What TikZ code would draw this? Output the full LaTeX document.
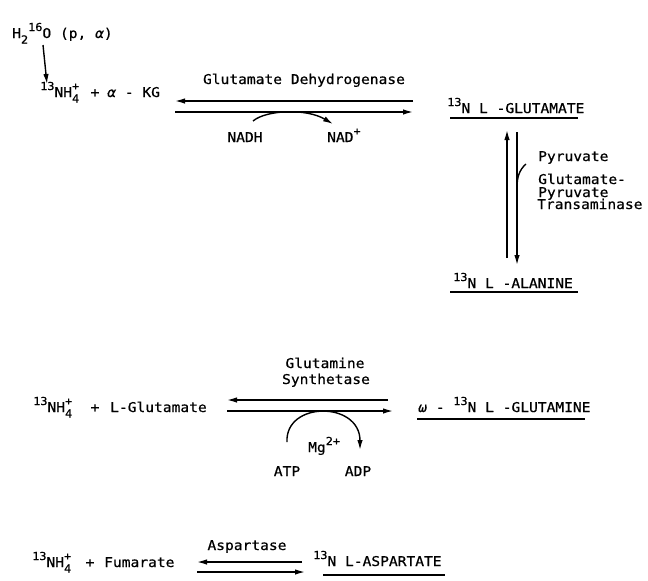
\documentclass[tikz,border=0pt]{standalone}
\usepackage{fontspec}
\setmainfont[FakeStretch=1.08,FakeBold=0.6]{DejaVu Sans Mono}
\usetikzlibrary{arrows.meta}
\newcommand\mysup[1]{\raisebox{7pt}{\fontsize{11}{11}\selectfont #1}}
\newcommand\mysub[1]{\raisebox{-5.5pt}{\fontsize{11}{11}\selectfont #1}}
\tikzset{
 txt/.style={inner sep=0pt, font=\fontsize{13.5}{12.5}\selectfont, anchor=base west},
 ctxt/.style={inner sep=0pt, font=\fontsize{13.5}{12.5}\selectfont, anchor=base},
 rx/.style={line width=1.4pt, -{Latex[length=10pt,width=5.5pt]}},
 ln/.style={line width=1.4pt},
 ul/.style={line width=1.4pt},
}
\begin{document}
\begin{tikzpicture}[x=1pt,y=-1pt]
\useasboundingbox (0,0) rectangle (648,581);
% ---- reaction 1 ----
\node[txt] (h2o) at (12,38) {H\mysub{2}\mysup{16}O (p, \textit{α})};
\node[txt] (nh1) at (40,97) {\mysup{13}NH\rlap{\mysup{+}}\mysub{4}};
\node[ctxt] (p1) at (95,97) {+};
\node[txt] (akg) at (107,97) {\textit{α} - KG};
\coordinate (h2oA) at (43,45);
\coordinate (nh1A) at (47,84);
\draw[rx] (h2oA) -- (nh1A);
\node[ctxt] (gdh) at (304,84) {Glutamate Dehydrogenase};
\coordinate (r1a) at (413,101);
\coordinate (r1b) at (175,101);
\coordinate (r1c) at (175,112);
\coordinate (r1d) at (413,112);
\draw[rx] (r1a) -- (r1b);
\draw[rx] (r1c) -- (r1d);
\node[ctxt] (nadh) at (245,142) {NADH};
\node[txt] (nad) at (327,142) {NAD\mysup{+}};
\coordinate (nadhT) at (253,121);
\coordinate (nadT) at (333,124);
\draw[rx] (nadhT) .. controls (266,110) and (306,108) .. (nadT);
\node[txt] (glu) at (447,113) {\mysup{13}N L -GLUTAMATE};
\draw[ul] (450,118) -- (578,118);
% transaminase
\coordinate (v1a) at (507,258);
\coordinate (v1b) at (507,130);
\coordinate (v2a) at (517,132);
\coordinate (v2b) at (517,265);
\draw[rx] (v1a) -- (v1b);
\draw[rx] (v2a) -- (v2b);
\coordinate (pyrA) at (526,164);
\coordinate (pyrB) at (517,187);
\draw[ln] (pyrA) .. controls (519,170) and (517,178) .. (pyrB);
\node[txt] (pyr) at (538,161) {Pyruvate};
\node[txt] (gpt1) at (538,184) {Glutamate-};
\node[txt] (gpt2) at (538,197) {Pyruvate};
\node[txt] (gpt3) at (537,209) {Transaminase};
\node[txt] (ala) at (453,288) {\mysup{13}N L -ALANINE};
\draw[ul] (450,292) -- (578,292);
% ---- reaction 2 ----
\node[txt] (n2) at (33,412) {\mysup{13}NH\rlap{\mysup{+}}\mysub{4}};
\node[ctxt] (p2) at (95,412) {+};
\node[txt] (lglu) at (110,412) {L-Glutamate};
\node[ctxt] (gs1) at (325,368) {Glutamine};
\node[ctxt] (gs2) at (326,384) {Synthetase};
\coordinate (r2a) at (388,400);
\coordinate (r2b) at (227,400);
\coordinate (r2c) at (227,411);
\coordinate (r2d) at (393,411);
\draw[rx] (r2a) -- (r2b);
\draw[rx] (r2c) -- (r2d);
\node[txt] (mg) at (308,452) {Mg\mysup{2+}};
\node[ctxt] (atp) at (287,476) {ATP};
\node[ctxt] (adp) at (358,476) {ADP};
\coordinate (atpT) at (287,442);
\coordinate (adpT) at (360,450);
\draw[rx] (atpT) .. controls (285,401) and (360,401) .. (adpT);
\node[txt] (gln) at (418,412) {\textit{ω} - \mysup{13}N L -GLUTAMINE};
\draw[ul] (417,419) -- (585,419);
% ---- reaction 3 ----
\node[txt] (n3) at (32,567) {\mysup{13}NH\rlap{\mysup{+}}\mysub{4}};
\node[ctxt] (p3) at (90,567) {+};
\node[txt] (fum) at (104,567) {Fumarate};
\node[ctxt] (asp) at (247,550) {Aspartase};
\coordinate (r3a) at (302,562);
\coordinate (r3b) at (197,562);
\coordinate (r3c) at (197,572);
\coordinate (r3d) at (305,572);
\draw[rx] (r3a) -- (r3b);
\draw[rx] (r3c) -- (r3d);
\node[txt] (aspt) at (313,566) {\mysup{13}N L-ASPARTATE};
\draw[ul] (323,575) -- (445,575);
\end{tikzpicture}
\end{document}
